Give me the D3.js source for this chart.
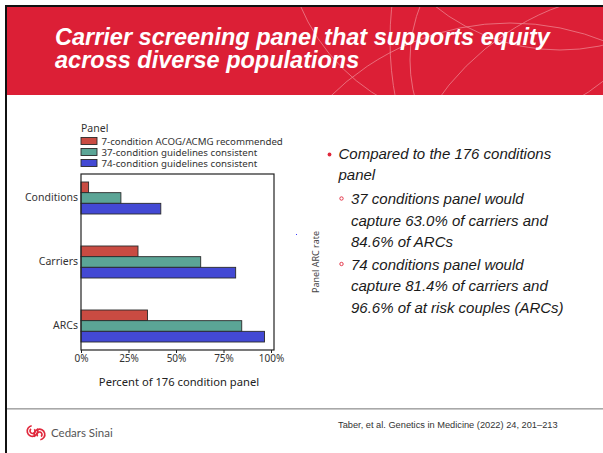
<!DOCTYPE html>
<html><head><meta charset="utf-8">
<script src="https://cdn.jsdelivr.net/npm/d3@7"></script>
<style>body{margin:0;background:#fff;overflow:hidden} svg{display:block}</style>
</head><body><svg id="s" width="603" height="453"></svg>
<script>
// ---- data ----
const categories = ["Conditions", "Carriers", "ARCs"];
const panels = ["7-condition ACOG/ACMG recommended", "37-condition guidelines consistent", "74-condition guidelines consistent"];
const panel7 = [4.0, 30.0, 35.0];
const panel37 = [21.0, 63.0, 84.6];
const panel74 = [42.0, 81.4, 96.6];
const xTicks = [0, 25, 50, 75, 100];
const titleLines = ["Carrier screening panel that supports equity", "across diverse populations"];
const bullets = [
  {level: 0, lines: ["Compared to the 176 conditions", "panel"]},
  {level: 1, lines: ["37 conditions panel would", "capture 63.0% of carriers and", "84.6% of ARCs"]},
  {level: 1, lines: ["74 conditions panel would", "capture 81.4% of carriers and", "96.6% of at risk couples (ARCs)"]}
];
const citation = "Taber, et al. Genetics in Medicine (2022) 24, 201\u2013213";

const colors = ["#c94b42", "#5ba596", "#4349d4"];
const series = [panel7, panel37, panel74];

const svg = d3.select("#s");
svg.append("rect").attr("width", 603).attr("height", 453).attr("fill", "#fff");

// ---- header ----
const RED = "#dc1f36";
svg.append("rect").attr("x", 7).attr("y", 7).attr("width", 596).attr("height", 88).attr("fill", RED);
svg.append("defs").append("clipPath").attr("id", "hc").append("rect")
  .attr("x", 7).attr("y", 7).attr("width", 596).attr("height", 88);
const deco = svg.append("g").attr("clip-path", "url(#hc)")
  .attr("fill", "none").attr("stroke", "#f2a2aa").attr("stroke-width", 0.8).attr("opacity", 0.75);
[[480, -70, 195], [700, 40, 310], [560, -150, 200], [510, 280, 257], [650, 250, 260], [560, 60, 150]]
  .forEach(c => deco.append("circle").attr("cx", c[0]).attr("cy", c[1]).attr("r", c[2]));
svg.append("rect").attr("x", 5).attr("y", 5).attr("width", 598).attr("height", 2).attr("fill", "#111");
svg.append("rect").attr("x", 5).attr("y", 5).attr("width", 2).attr("height", 448).attr("fill", "#111");

svg.append("g").selectAll("text").data(titleLines).join("text")
  .attr("x", 55).attr("y", (d, i) => 45 + i * 22.5)
  .attr("fill", "#fff").attr("font-family", "Liberation Sans, Arial, sans-serif")
  .attr("font-weight", "bold").attr("font-style", "italic").attr("font-size", 23.5)
  .text(d => d);

// ---- chart ----
const FONT = "Noto Sans, sans-serif";
const x = d3.scaleLinear().domain([0, 100]).range([81, 271]);
const y = d3.scaleBand().domain(categories).range([174, 350]).paddingInner(0.5).paddingOuter(0.125);
const ys = d3.scaleBand().domain(panels).range([0, y.bandwidth()]);

const g = svg.append("g");
series.forEach((vals, si) => {
  g.append("g").selectAll("rect").data(vals).join("rect")
    .attr("x", x(0)).attr("y", (d, i) => y(categories[i]) + ys(panels[si]))
    .attr("width", d => x(d) - x(0)).attr("height", ys.bandwidth())
    .attr("fill", colors[si]).attr("stroke", "#2a2a2a").attr("stroke-width", 0.9);
});
// frame
g.append("rect").attr("x", 81).attr("y", 174).attr("width", 193).attr("height", 176)
  .attr("fill", "none").attr("stroke", "#222").attr("stroke-width", 1.2);

const xa = g.append("g").attr("transform", "translate(0,350)")
  .call(d3.axisBottom(x).tickValues(xTicks).tickFormat(d => d + "%").tickSize(3).tickPadding(2));
xa.select(".domain").remove();
xa.selectAll("line").attr("stroke", "#222");
xa.selectAll("text").attr("font-family", FONT).attr("font-size", 10).attr("fill", "#333");

const ya = g.append("g").attr("transform", "translate(81,0)")
  .call(d3.axisLeft(y).tickSize(0).tickPadding(3));
ya.select(".domain").remove();
ya.selectAll("text").attr("font-family", FONT).attr("font-size", 10.5).attr("fill", "#333");

g.append("text").attr("x", 179).attr("y", 386).attr("text-anchor", "middle")
  .attr("font-family", FONT).attr("font-size", 11.2).attr("fill", "#222").text("Percent of 176 condition panel");

// legend
g.append("text").attr("x", 81).attr("y", 132).attr("font-family", FONT).attr("font-size", 10.5)
  .attr("fill", "#333").text("Panel");
const lg = g.append("g").selectAll("g").data(panels).join("g")
  .attr("transform", (d, i) => `translate(81,${137.5 + i * 11})`);
lg.append("rect").attr("width", 16).attr("height", 7).attr("fill", (d, i) => colors[i])
  .attr("stroke", "#2a2a2a").attr("stroke-width", 0.9);
lg.append("text").attr("x", 20.5).attr("y", 7).attr("font-family", FONT).attr("font-size", 9.7)
  .attr("fill", "#333").text(d => d);

// stray label
svg.append("text").attr("transform", "translate(319,262) rotate(-90)").attr("text-anchor", "middle")
  .attr("font-family", FONT).attr("font-size", 9).attr("fill", "#444").text("Panel ARC rate");
svg.append("rect").attr("x", 296).attr("y", 234).attr("width", 1).attr("height", 1).attr("fill", "#3b3bff");

// ---- bullets ----
const baselines = [[159, 179.5], [204, 225.5, 246.5], [269.5, 291, 312.5]];
const tg = svg.append("g").attr("font-family", "Liberation Sans, Arial, sans-serif")
  .attr("font-style", "italic").attr("font-size", 15).attr("fill", "#1a1a1a");
bullets.forEach((b, bi) => {
  const tx = b.level === 0 ? 338.5 : 351;
  if (b.level === 0) {
    svg.append("circle").attr("cx", 329.5).attr("cy", 154.5).attr("r", 1.9).attr("fill", "#e0283c");
  } else {
    svg.append("circle").attr("cx", 341.5).attr("cy", baselines[bi][0] - 5.5).attr("r", 1.7)
      .attr("fill", "none").attr("stroke", "#e0283c").attr("stroke-width", 0.9);
  }
  b.lines.forEach((l, li) => tg.append("text").attr("x", tx).attr("y", baselines[bi][li]).text(l));
});

// ---- footer ----
svg.append("rect").attr("x", 7).attr("y", 408).attr("width", 596).attr("height", 1.6).attr("fill", "#a8a8a8");
svg.append("text").attr("x", 338).attr("y", 428).attr("font-family", "Liberation Sans, Arial, sans-serif")
  .attr("font-size", 9.25).attr("fill", "#333").text(citation);
const logo = svg.append("g").attr("fill", "none").attr("stroke", "#e0283c").attr("stroke-width", 1.7)
  .attr("stroke-linecap", "round");
const arc = d3.arc();
// left C (opening to the right), right C (opening to the left), interlocking
logo.append("path").attr("transform", "translate(32.5,431)")
  .attr("d", arc({innerRadius: 5.3, outerRadius: 5.3, startAngle: 0.35 * Math.PI, endAngle: 1.95 * Math.PI}));
logo.append("path").attr("transform", "translate(32.5,431)")
  .attr("d", arc({innerRadius: 2.5, outerRadius: 2.5, startAngle: 0.25 * Math.PI, endAngle: 1.8 * Math.PI}));
logo.append("path").attr("transform", "translate(39.5,434.5)")
  .attr("d", arc({innerRadius: 5.3, outerRadius: 5.3, startAngle: -0.65 * Math.PI, endAngle: 0.95 * Math.PI}));
logo.append("path").attr("transform", "translate(39.5,434.5)")
  .attr("d", arc({innerRadius: 2.5, outerRadius: 2.5, startAngle: -0.75 * Math.PI, endAngle: 0.8 * Math.PI}));
svg.append("text").attr("x", 51).attr("y", 437).attr("font-family", "Lato, sans-serif")
  .attr("font-size", 11.5).attr("fill", "#555").text("Cedars Sinai");
</script></body></html>
